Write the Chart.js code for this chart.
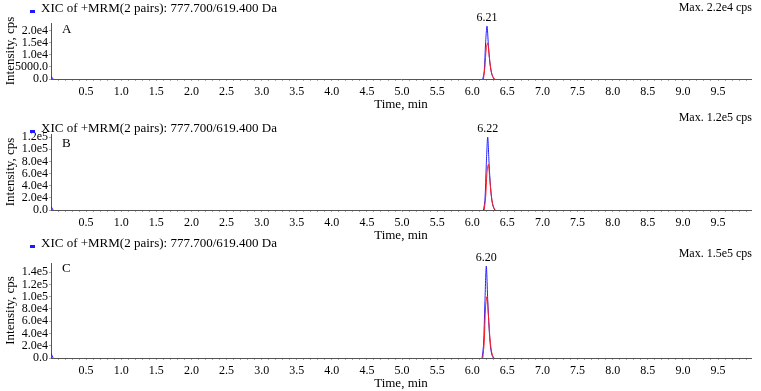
<!DOCTYPE html>
<html><head><meta charset="utf-8">
<script src="https://cdn.jsdelivr.net/npm/chart.js@4"></script>
<style>
html,body{margin:0;padding:0;background:#fff;}
#wrap{position:relative;width:761px;height:391px;overflow:hidden;}
.pn{position:absolute;left:0;}
</style></head><body>
<div id="wrap">
<canvas id="cA" class="pn" style="top:0px" width="761" height="114"></canvas>
<canvas id="cB" class="pn" style="top:108px" width="761" height="136"></canvas>
<canvas id="cC" class="pn" style="top:230px" width="761" height="161"></canvas>
</div>
<script>
// ---- data ----
const xicTitle = 'XIC of +MRM(2 pairs): 777.700/619.400 Da';
const panelLetters = ['A', 'B', 'C'];
const maxLabels = ['Max. 2.2e4 cps', 'Max. 1.2e5 cps', 'Max. 1.5e5 cps'];
const peakLabels = ['6.21', '6.22', '6.20'];
const peakTimes = [6.21, 6.22, 6.20];
const peakValues = [22000, 120000, 150000];

const xTickValues = [];
for (let i = 1; i <= 99; i++) xTickValues.push(+(i / 10).toFixed(1));
const xTickLabels = ['0.5','1.0','1.5','2.0','2.5','3.0','3.5','4.0','4.5','5.0','5.5','6.0','6.5','7.0','7.5','8.0','8.5','9.0','9.5'];

const yTickValuesA = [0, 5000, 10000, 15000, 20000];
const yTickLabelsA = ['0.0', '5000.0', '1.0e4', '1.5e4', '2.0e4'];
const yTickValuesB = [0, 20000, 40000, 60000, 80000, 100000, 120000];
const yTickLabelsB = ['0.0', '2.0e4', '4.0e4', '6.0e4', '8.0e4', '1.0e5', '1.2e5'];
const yTickValuesC = [0, 20000, 40000, 60000, 80000, 100000, 120000, 140000];
const yTickLabelsC = ['0.0', '2.0e4', '4.0e4', '6.0e4', '8.0e4', '1.0e5', '1.2e5', '1.4e5'];

// blue trace (time, intensity); null = gap (baseline hidden under the axis)
const blueTimeA = [0, 0.03, 3.0, 6.15, 6.17, 6.19, 6.21, 6.23, 6.25, 6.27, 6.29, 6.31];
const blueIntA  = [1200, 0, null, 0, 3000, 15000, 22000, 14000, 7000, 3000, 1000, 0];
const redTimeA  = [6.16, 6.18, 6.20, 6.22, 6.24, 6.26, 6.28, 6.30, 6.32];
const redIntA   = [0, 5000, 13000, 15000, 10000, 5000, 2000, 700, 0];

const blueTimeB = [0, 0.03, 3.0, 6.16, 6.18, 6.20, 6.22, 6.24, 6.26, 6.28, 6.30, 6.32];
const blueIntB  = [6000, 0, null, 0, 15000, 75000, 120000, 75000, 38000, 15000, 5000, 0];
const redTimeB  = [6.17, 6.19, 6.21, 6.23, 6.25, 6.27, 6.29, 6.31, 6.33];
const redIntB   = [0, 20000, 62000, 75000, 50000, 25000, 10000, 3000, 0];

const blueTimeC = [0, 0.03, 3.0, 6.14, 6.16, 6.18, 6.20, 6.22, 6.24, 6.26, 6.28, 6.30];
const blueIntC  = [8000, 0, null, 0, 20000, 90000, 150000, 95000, 48000, 18000, 5000, 0];
const redTimeC  = [6.15, 6.17, 6.19, 6.21, 6.23, 6.25, 6.27, 6.29, 6.31];
const redIntC   = [0, 25000, 85000, 100000, 70000, 35000, 13000, 4000, 0];

// ---- drawing ----
const FONT = '"Liberation Serif", "Times New Roman", serif';
const pts = (t, v) => t.map((x, i) => ({x: x, y: v[i]}));

const txtPlugin = {
  id: 'txt',
  afterDraw(chart, args, o) {
    const ctx = chart.ctx, xs = chart.scales.x, ys = chart.scales.y;
    ctx.save();
    ctx.textBaseline = 'middle';
    ctx.fillStyle = '#1a1aff';
    ctx.fillRect(30, o.titleY + 1, 5, 3);
    ctx.fillStyle = '#000';
    ctx.font = '13px ' + FONT;
    ctx.textAlign = 'left';
    ctx.fillText(xicTitle, 41, o.titleY);
    ctx.font = '12px ' + FONT;
    ctx.textAlign = 'right';
    ctx.fillText(o.maxLabel, 752, o.maxY);
    ctx.textAlign = 'center';
    ctx.fillText(o.peakLabel, xs.getPixelForValue(o.peakTime), ys.getPixelForValue(o.peakVal) - 8);
    ctx.font = '13px ' + FONT;
    ctx.textAlign = 'left';
    ctx.fillText(o.letter, 62, o.letterY);
    ctx.restore();
  }
};

function makePanel(id, idx, cfg) {
  const yVals = cfg.yVals, yLabs = cfg.yLabs;
  new Chart(document.getElementById(id), {
    type: 'line',
    data: {
      datasets: [
        {data: pts(cfg.rt, cfg.ri), borderColor: '#ff1a1a', borderWidth: 1, pointRadius: 0, tension: 0.3, fill: false},
        {data: pts(cfg.bt, cfg.bi), borderColor: '#2222ff', borderWidth: 1, pointRadius: 0, tension: 0.3, fill: false, spanGaps: false}
      ]
    },
    options: {
      responsive: false, animation: false, events: [],
      layout: {padding: {top: cfg.pt, bottom: cfg.pb, left: 0, right: 10}},
      plugins: {
        legend: {display: false}, tooltip: {enabled: false},
        txt: {titleY: cfg.titleY, maxY: cfg.maxY, letterY: cfg.letterY,
              maxLabel: maxLabels[idx], peakLabel: peakLabels[idx], peakTime: peakTimes[idx],
              peakVal: peakValues[idx], letter: panelLetters[idx]}
      },
      scales: {
        x: {
          type: 'linear', min: 0, max: 9.97,
          afterBuildTicks: s => { s.ticks = xTickValues.map(v => ({value: v})); },
          afterFit: s => { s.height = 33; },
          ticks: {
            autoSkip: false, maxRotation: 0, minRotation: 0, padding: 4, color: '#000',
            font: {family: FONT, size: 12},
            callback: v => { const l = v.toFixed(1); return xTickLabels.includes(l) && Math.abs(v * 2 - Math.round(v * 2)) < 1e-6 ? l : ''; }
          },
          grid: {drawOnChartArea: false, drawTicks: true, tickLength: 2, color: '#aaa'},
          border: {color: '#555', width: 1},
          title: {display: true, text: 'Time, min', color: '#000', font: {family: FONT, size: 13}, padding: {top: 0, bottom: 0}}
        },
        y: {
          type: 'linear', min: 0, max: cfg.ymax,
          afterBuildTicks: s => { s.ticks = yVals.map(v => ({value: v})); },
          afterFit: s => { s.width = 51; },
          ticks: {
            autoSkip: false, padding: 1, color: '#000', font: {family: FONT, size: 12},
            callback: v => { const i = yVals.indexOf(v); return i >= 0 ? yLabs[i] : ''; }
          },
          grid: {drawOnChartArea: false, drawTicks: true, tickLength: 2, color: '#aaa'},
          border: {color: '#555', width: 1},
          title: {display: true, text: 'Intensity, cps', color: '#000', font: {family: FONT, size: 13}, padding: {top: 3, bottom: 0}}
        }
      }
    },
    plugins: [txtPlugin]
  });
}

makePanel('cA', 0, {bt: blueTimeA, bi: blueIntA, rt: redTimeA, ri: redIntA, yVals: yTickValuesA, yLabs: yTickLabelsA,
  ymax: 23300, pt: 23, pb: 2, titleY: 9, maxY: 8, letterY: 30});
makePanel('cB', 1, {bt: blueTimeB, bi: blueIntB, rt: redTimeB, ri: redIntB, yVals: yTickValuesB, yLabs: yTickLabelsB,
  ymax: 125000, pt: 26, pb: 1, titleY: 21, maxY: 10, letterY: 36});
makePanel('cC', 2, {bt: blueTimeC, bi: blueIntC, rt: redTimeC, ri: redIntC, yVals: yTickValuesC, yLabs: yTickLabelsC,
  ymax: 155000, pt: 33, pb: 0, titleY: 14, maxY: 24, letterY: 39});
</script>
</body></html>
